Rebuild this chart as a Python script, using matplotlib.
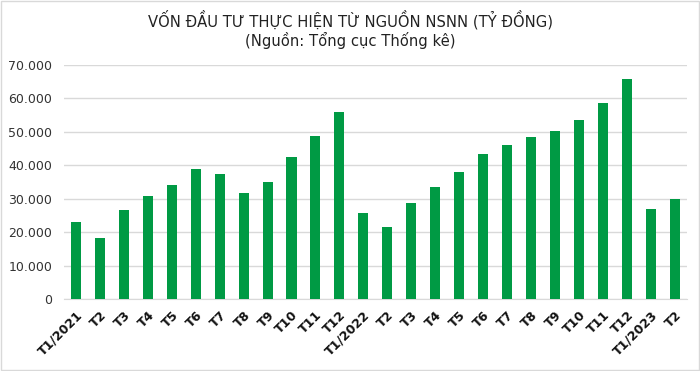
import matplotlib
matplotlib.use("Agg")
from matplotlib import pyplot as plt
from matplotlib.ticker import FuncFormatter
from matplotlib.patches import Rectangle

# thang, don vi: ty dong
labels = ["T1/2021", "T2", "T3", "T4", "T5", "T6", "T7", "T8", "T9", "T10", "T11", "T12",
          "T1/2022", "T2", "T3", "T4", "T5", "T6", "T7", "T8", "T9", "T10", "T11", "T12",
          "T1/2023", "T2"]
values = [23000, 18300, 26600, 30800, 34200, 38900, 37400, 31600, 35000, 42400, 48600, 55800,
          25600, 21500, 28700, 33500, 38100, 43400, 46200, 48400, 50200, 53500, 58500, 65800,
          26900, 29800]
yticks = [0, 10000, 20000, 30000, 40000, 50000, 60000, 70000]

title = "VỐN ĐẦU TƯ THỰC HIỆN TỪ NGUỒN NSNN (TỶ ĐỒNG)"
subtitle = "(Nguồn: Tổng cục Thống kê)"

plt.rcParams['font.family'] = ['DejaVu Sans']

fig = plt.figure(figsize=(7, 3.71), dpi=100)
ax = fig.add_axes([0.0914, 0.194, 0.8896, 0.631])

x = range(len(values))
ax.bar(x, values, width=0.42, color="#009A44", zorder=3)

ax.set_xlim(-0.5, len(values) - 0.5)
ax.set_ylim(0, 70000)
ax.set_yticks(yticks)
ax.yaxis.set_major_formatter(FuncFormatter(lambda v, p: "{:,.0f}".format(v).replace(",", ".")))
ax.tick_params(axis='y', length=0, labelsize=9, colors="#333333", pad=8.5)
ax.set_xticks(list(x))
ax.set_xticklabels(labels, rotation=45, ha='right', rotation_mode='anchor',
                   fontsize=9, fontweight='bold', color="#111111")
ax.tick_params(axis='x', length=0, pad=7)

ax.grid(axis='y', color="#D9D9D9", linewidth=1, zorder=0)
for s in ['top', 'right', 'left']:
    ax.spines[s].set_visible(False)
ax.spines['bottom'].set_color("#D9D9D9")

fig.text(0.5, 0.947, title, ha='center', va='center', fontsize=10.6, color="#222222")
fig.text(0.5, 0.891, subtitle, ha='center', va='center', fontsize=10.6, color="#222222")

# vien ngoai
fig.patches.append(Rectangle((0.001, 0.002), 0.997, 0.995, transform=fig.transFigure,
                             fill=False, edgecolor="#D9D9D9", linewidth=1))

fig.savefig("out.png", dpi=100)
